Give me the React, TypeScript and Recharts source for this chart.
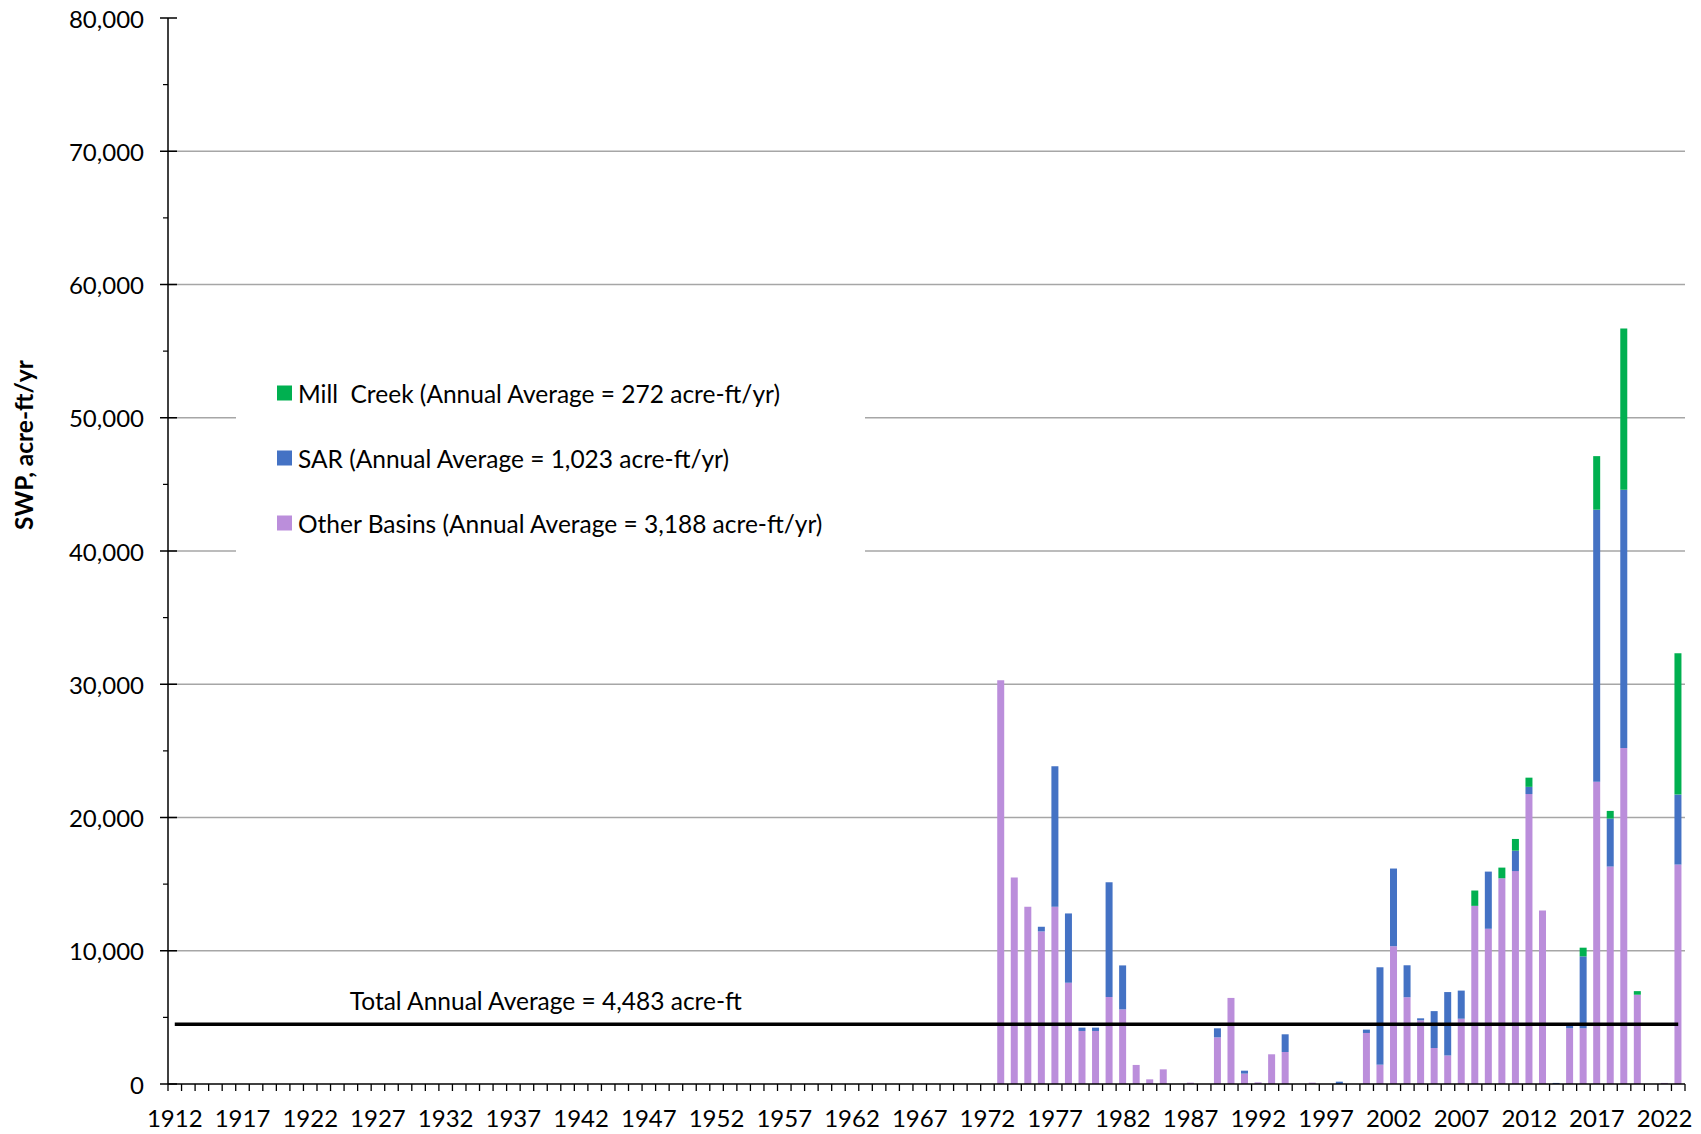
import React from "react";
import {
  BarChart,
  Bar,
  XAxis,
  YAxis,
  CartesianGrid,
  ReferenceLine,
  Legend,
} from "recharts";

// ─── Data ───
const firstYear = 1912;
const lastYear = 2023;
const firstDataYear = 1973;

// values 1973 → 2023 (acre-ft/yr)
const otherBasins = [
  30300, 15500, 13300, 11450, 13300, 7600, 3980, 3980, 6530, 5600,
  1430, 350, 1100, 0, 100, 0, 3500, 6460, 780, 125,
  2230, 2400, 0, 100, 0, 0, 0, 3830, 1450, 10340,
  6510, 4780, 2700, 2140, 4900, 13370, 11650, 15440, 15980, 21760,
  13025, 0, 4180, 4180, 22680, 16320, 25210, 6700, 0, 80,
  16470,
];
const sar = [
  0, 0, 0, 350, 10550, 5200, 250, 250, 8610, 3300,
  0, 0, 0, 0, 0, 0, 680, 0, 220, 0,
  0, 1330, 0, 0, 0, 175, 0, 250, 7310, 5830,
  2400, 150, 2770, 4760, 2110, 0, 4290, 0, 1530, 540,
  0, 80, 190, 5400, 20420, 3600, 19385, 0, 0, 0,
  5250,
];
const millCreek = [
  0, 0, 0, 0, 0, 0, 0, 0, 0, 0,
  0, 0, 0, 0, 0, 0, 0, 0, 0, 0,
  0, 0, 0, 0, 0, 0, 0, 0, 0, 0,
  0, 0, 0, 0, 0, 1150, 0, 800, 880, 690,
  0, 0, 0, 650, 4020, 575, 12105, 270, 0, 0,
  10610,
];

const totalAverage = 4483;
const totalAverageLabel = "Total Annual Average = 4,483 acre-ft";

const yTicks = [
  0, 5000, 10000, 15000, 20000, 25000, 30000, 35000, 40000,
  45000, 50000, 55000, 60000, 65000, 70000, 75000, 80000,
];
const yGridLines = [10000, 20000, 30000, 40000, 50000, 60000, 70000];
const xTickLabels = [
  "1912", "1917", "1922", "1927", "1932", "1937", "1942", "1947", "1952",
  "1957", "1962", "1967", "1972", "1977", "1982", "1987", "1992", "1997",
  "2002", "2007", "2012", "2017", "2022",
];

const legendItems = [
  { label: "Mill  Creek (Annual Average = 272 acre-ft/yr)", color: "#00B050" },
  { label: "SAR (Annual Average = 1,023 acre-ft/yr)", color: "#4472C4" },
  { label: "Other Basins (Annual Average = 3,188 acre-ft/yr)", color: "#BB8EDB" },
];

const years: number[] = [];
for (let y = firstYear; y <= lastYear; y++) years.push(y);

const data = years.map((year) => {
  const i = year - firstDataYear;
  return {
    year,
    other: i >= 0 ? otherBasins[i] : 0,
    sar: i >= 0 ? sar[i] : 0,
    mill: i >= 0 ? millCreek[i] : 0,
  };
});

// ─── Layout ───
const W = 1701;
const H = 1134;
const PLOT_LEFT = 168;
const PLOT_RIGHT = 1685;
const BAND = (PLOT_RIGHT - PLOT_LEFT) / years.length;
const FONT = "Lato, 'Open Sans', sans-serif";

const YTick = (props: any) => {
  const { x, y, payload } = props;
  const major = payload.value % 10000 === 0;
  if (!major) {
    return <line x1={x - 5} x2={x} y1={y} y2={y} stroke="#000" strokeWidth={1.2} />;
  }
  return (
    <g>
      <line x1={x - 8} x2={x + 9} y1={y} y2={y} stroke="#000" strokeWidth={1.5} />
      <text
        x={x - 24}
        y={y}
        textAnchor="end"
        dominantBaseline="central"
        fontFamily={FONT}
        fontSize={24}
        fill="#000"
      >
        {payload.value.toLocaleString("en-US")}
      </text>
    </g>
  );
};

const XTick = (props: any) => {
  const { x, y, payload, index } = props;
  const label = String(payload.value);
  const isLast = index === years.length - 1;
  return (
    <g>
      <line x1={x - BAND / 2} x2={x - BAND / 2} y1={y} y2={y + 7} stroke="#000" strokeWidth={1.3} />
      {isLast && (
        <line x1={x + BAND / 2} x2={x + BAND / 2} y1={y} y2={y + 7} stroke="#000" strokeWidth={1.3} />
      )}
      {xTickLabels.includes(label) && (
        <text x={x} y={y + 43} textAnchor="middle" fontFamily={FONT} fontSize={24} fill="#000">
          {label}
        </text>
      )}
    </g>
  );
};

const LegendBox = () => (
  <div style={{ position: "relative", width: "100%", height: "100%", fontFamily: FONT }}>
    {legendItems.map((item, i) => (
      <div
        key={item.label}
        style={{
          position: "absolute",
          left: 41,
          top: 43 + i * 65,
          transform: "translateY(-50%)",
          display: "flex",
          alignItems: "center",
          whiteSpace: "pre",
        }}
      >
        <span style={{ width: 15, height: 15, background: item.color, display: "inline-block" }} />
        <span style={{ marginLeft: 6, fontSize: 24.5, color: "#000" }}>{item.label}</span>
      </div>
    ))}
  </div>
);

export default function App() {
  return (
    <div style={{ width: W, height: H, background: "#fff" }}>
      <style>{`body{margin:0}`}</style>
      <BarChart
        width={W}
        height={H}
        data={data}
        margin={{ top: 18, right: W - PLOT_RIGHT, left: 0, bottom: 0 }}
        barSize={7}
      >
        <CartesianGrid
          vertical={false}
          horizontalValues={yGridLines}
          stroke="#a6a6a6"
          strokeWidth={1.5}
        />
        <XAxis
          dataKey="year"
          height={50}
          interval={0}
          tickSize={0}
          tickMargin={0}
          tick={<XTick />}
          axisLine={{ stroke: "#000", strokeWidth: 1.5 }}
        />
        <XAxis
          xAxisId="top"
          dataKey="year"
          orientation="top"
          height={0}
          tick={false}
          tickLine={false}
          axisLine={{ stroke: "#000", strokeWidth: 1.5 }}
        />
        <YAxis
          width={PLOT_LEFT}
          domain={[0, 80000]}
          ticks={yTicks}
          interval={0}
          tickSize={0}
          tickMargin={0}
          tick={<YTick />}
          axisLine={{ stroke: "#000", strokeWidth: 1.5 }}
          label={(p: any) => {
            const vb = p.viewBox;
            const cx = vb.x + 23;
            const cy = vb.y + 427;
            return (
              <text
                x={cx}
                y={cy}
                transform={`rotate(-90, ${cx}, ${cy})`}
                textAnchor="middle"
                dominantBaseline="central"
                fontFamily={FONT}
                fontWeight="bold"
                fontSize={24.5}
                fill="#000"
              >
                SWP, acre-ft/yr
              </text>
            );
          }}
        />
        <YAxis
          yAxisId="right"
          orientation="right"
          width={0}
          domain={[0, 80000]}
          tick={false}
          tickLine={false}
          axisLine={{ stroke: "#000", strokeWidth: 1.5 }}
        />
        <Legend
          layout="vertical"
          align="center"
          verticalAlign="middle"
          content={<LegendBox />}
          wrapperStyle={{
            position: "absolute",
            left: 236,
            top: 350,
            width: 629,
            height: 210,
            background: "#fff",
          }}
        />
        <Bar dataKey="other" stackId="a" fill="#BB8EDB" isAnimationActive={false} />
        <Bar dataKey="sar" stackId="a" fill="#4472C4" isAnimationActive={false} />
        <Bar dataKey="mill" stackId="a" fill="#00B050" isAnimationActive={false} />
        <ReferenceLine
          segment={[
            { x: firstYear, y: totalAverage },
            { x: lastYear, y: totalAverage },
          ]}
          stroke="#000"
          strokeWidth={3.5}
          label={(p: any) => {
            const vb = p.viewBox || {};
            return (
              <text
                x={(vb.x ?? PLOT_LEFT) + 175}
                y={(vb.y ?? 1024) - 14}
                fontFamily={FONT}
                fontSize={24.5}
                fill="#000"
              >
                {totalAverageLabel}
              </text>
            );
          }}
        />
      </BarChart>
    </div>
  );
}
